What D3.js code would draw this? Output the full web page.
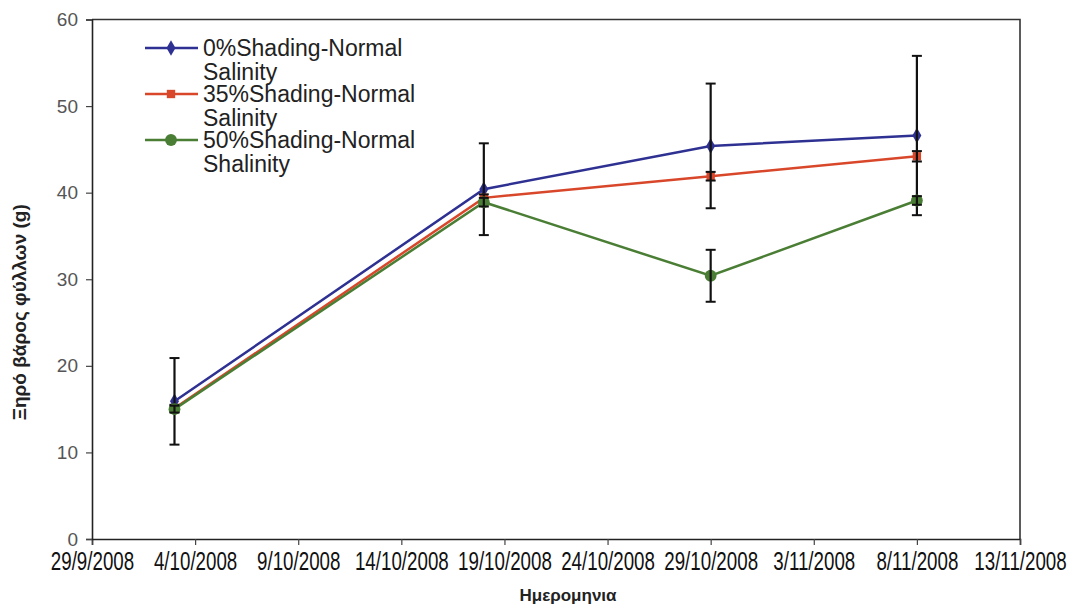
<!DOCTYPE html>
<html>
<head>
<meta charset="utf-8">
<script src="https://cdn.jsdelivr.net/npm/d3@7"></script>
<style>
  html, body { margin: 0; padding: 0; background: #fff; }
  svg { display: block; }
</style>
</head>
<body>
<svg id="chart" width="1075" height="608"></svg>
<script>
// Sampling dates and x-axis tick dates
const sampleDates = ["3/10/2008", "18/10/2008", "29/10/2008", "8/11/2008"];
const tickDates = ["29/9/2008", "4/10/2008", "9/10/2008", "14/10/2008", "19/10/2008",
                   "24/10/2008", "29/10/2008", "3/11/2008", "8/11/2008", "13/11/2008"];
const yTicks = [0, 10, 20, 30, 40, 50, 60];

// Series names (legend labels) and mean dry leaf weight (g)
const seriesNames = ["0%Shading-Normal Salinity", "35%Shading-Normal Salinity", "50%Shading-Normal Shalinity"];
const shade0 = [15.9, 40.4, 45.4, 46.6];
const shade35 = [15.1, 39.4, 41.9, 44.2];
const shade50 = [15.0, 38.9, 30.4, 39.1];

// Error bar half-widths (g)
const err0 = [5.0, 5.3, 7.2, 9.2];
const err35 = [0.4, 0.4, 0.5, 0.6];
const err50 = [0.4, 0.5, 3.0, 0.5];

const colors = ["#2e3192", "#d9472b", "#4a7e34"];
const symbols = [d3.symbolDiamond, d3.symbolSquare, d3.symbolCircle];
const symbolSizes = [70, 70, 110];

const parse = d3.timeParse("%d/%m/%Y");
const fmt = d => `${d.getDate()}/${d.getMonth() + 1}/${d.getFullYear()}`;

const svg = d3.select("#chart");
const m = { left: 92, right: 1020, top: 19.5, bottom: 539 };

const x = d3.scaleTime()
  .domain([parse(tickDates[0]), parse(tickDates[tickDates.length - 1])])
  .range([m.left, m.right]);
const y = d3.scaleLinear().domain([0, 60]).range([m.bottom, m.top]);

// Plot frame (top and right edges)
svg.append("path")
  .attr("d", `M${m.left},${m.top}H${m.right}V${m.bottom}`)
  .attr("fill", "none").attr("stroke", "#333").attr("stroke-width", 1.6);

// X axis (condensed date labels)
const xAxis = svg.append("g")
  .attr("transform", `translate(0,${m.bottom})`)
  .call(d3.axisBottom(x).tickValues(tickDates.map(parse)).tickFormat(fmt).tickSizeOuter(0).tickSize(6).tickPadding(7));
xAxis.select(".domain").attr("stroke", "#222").attr("stroke-width", 1.6);
xAxis.selectAll(".tick line").attr("stroke", "#444").attr("stroke-width", 1.2);
xAxis.selectAll("text")
  .attr("font-family", "'Liberation Sans', Arial, sans-serif")
  .attr("font-size", 25).attr("fill", "#111")
  .attr("transform", "scale(0.75,1)");

// Y axis
const yAxis = svg.append("g")
  .attr("transform", `translate(${m.left},0)`)
  .call(d3.axisLeft(y).tickValues(yTicks).tickSizeOuter(0).tickSize(6).tickPadding(8));
yAxis.select(".domain").attr("stroke", "#222").attr("stroke-width", 1.6);
yAxis.selectAll(".tick line").attr("stroke", "#444").attr("stroke-width", 1.2);
yAxis.selectAll("text")
  .attr("font-family", "'Liberation Sans', Arial, sans-serif")
  .attr("font-size", 19).attr("fill", "#555");

// Axis titles
svg.append("text")
  .attr("x", (m.left + m.right) / 2 + 12).attr("y", 601)
  .attr("text-anchor", "middle")
  .attr("font-family", "'Liberation Sans', Arial, sans-serif")
  .attr("font-weight", "bold").attr("font-size", 17).attr("fill", "#222")
  .text("Ημερομηνια");

svg.append("text")
  .attr("transform", `translate(26,${(m.top + m.bottom) / 2 + 33}) rotate(-90)`)
  .attr("text-anchor", "middle")
  .attr("font-family", "'Liberation Sans', Arial, sans-serif")
  .attr("font-weight", "bold").attr("font-size", 19).attr("fill", "#222")
  .text("Ξηρό βάρος φύλλων (g)");

// Series: line, markers, then error bars
const allValues = [shade0, shade35, shade50];
const allErrors = [err0, err35, err50];
const dates = sampleDates.map(parse);

const line = d3.line().x(d => x(d.date)).y(d => y(d.value));

allValues.forEach((vals, i) => {
  const pts = vals.map((v, j) => ({ date: dates[j], value: v, err: allErrors[i][j] }));
  const g = svg.append("g");

  g.append("path").datum(pts)
    .attr("d", line)
    .attr("fill", "none").attr("stroke", colors[i]).attr("stroke-width", 2.5);

  g.selectAll(".mk").data(pts).join("path")
    .attr("transform", d => `translate(${x(d.date)},${y(d.value)})`)
    .attr("d", d3.symbol().type(symbols[i]).size(symbolSizes[i]))
    .attr("fill", colors[i]);

  const eb = g.selectAll(".eb").data(pts).join("g")
    .attr("transform", d => `translate(${x(d.date)},0)`);
  eb.append("line")
    .attr("y1", d => y(d.value - d.err)).attr("y2", d => y(d.value + d.err))
    .attr("stroke", "#111").attr("stroke-width", 2.2);
  eb.selectAll(".cap").data(d => [d.value - d.err, d.value + d.err]).join("line")
    .attr("x1", -5).attr("x2", 5)
    .attr("y1", v => y(v)).attr("y2", v => y(v))
    .attr("stroke", "#111").attr("stroke-width", 2);
});

// Legend
const legend = svg.append("g");
seriesNames.forEach((name, i) => {
  const cy = 48 + i * 46;
  legend.append("line")
    .attr("x1", 145).attr("x2", 198).attr("y1", cy).attr("y2", cy)
    .attr("stroke", colors[i]).attr("stroke-width", 2.5);
  legend.append("path")
    .attr("transform", `translate(171,${cy})`)
    .attr("d", d3.symbol().type(symbols[i]).size(symbolSizes[i]))
    .attr("fill", colors[i]);
  const words = name.split(" ");
  const t = legend.append("text")
    .attr("font-family", "'Liberation Sans', Arial, sans-serif")
    .attr("font-size", 23).attr("fill", "#222");
  words.forEach((w, k) => {
    t.append("tspan").attr("x", 203).attr("y", cy + 8 + k * 24).text(w);
  });
});
</script>
</body>
</html>
